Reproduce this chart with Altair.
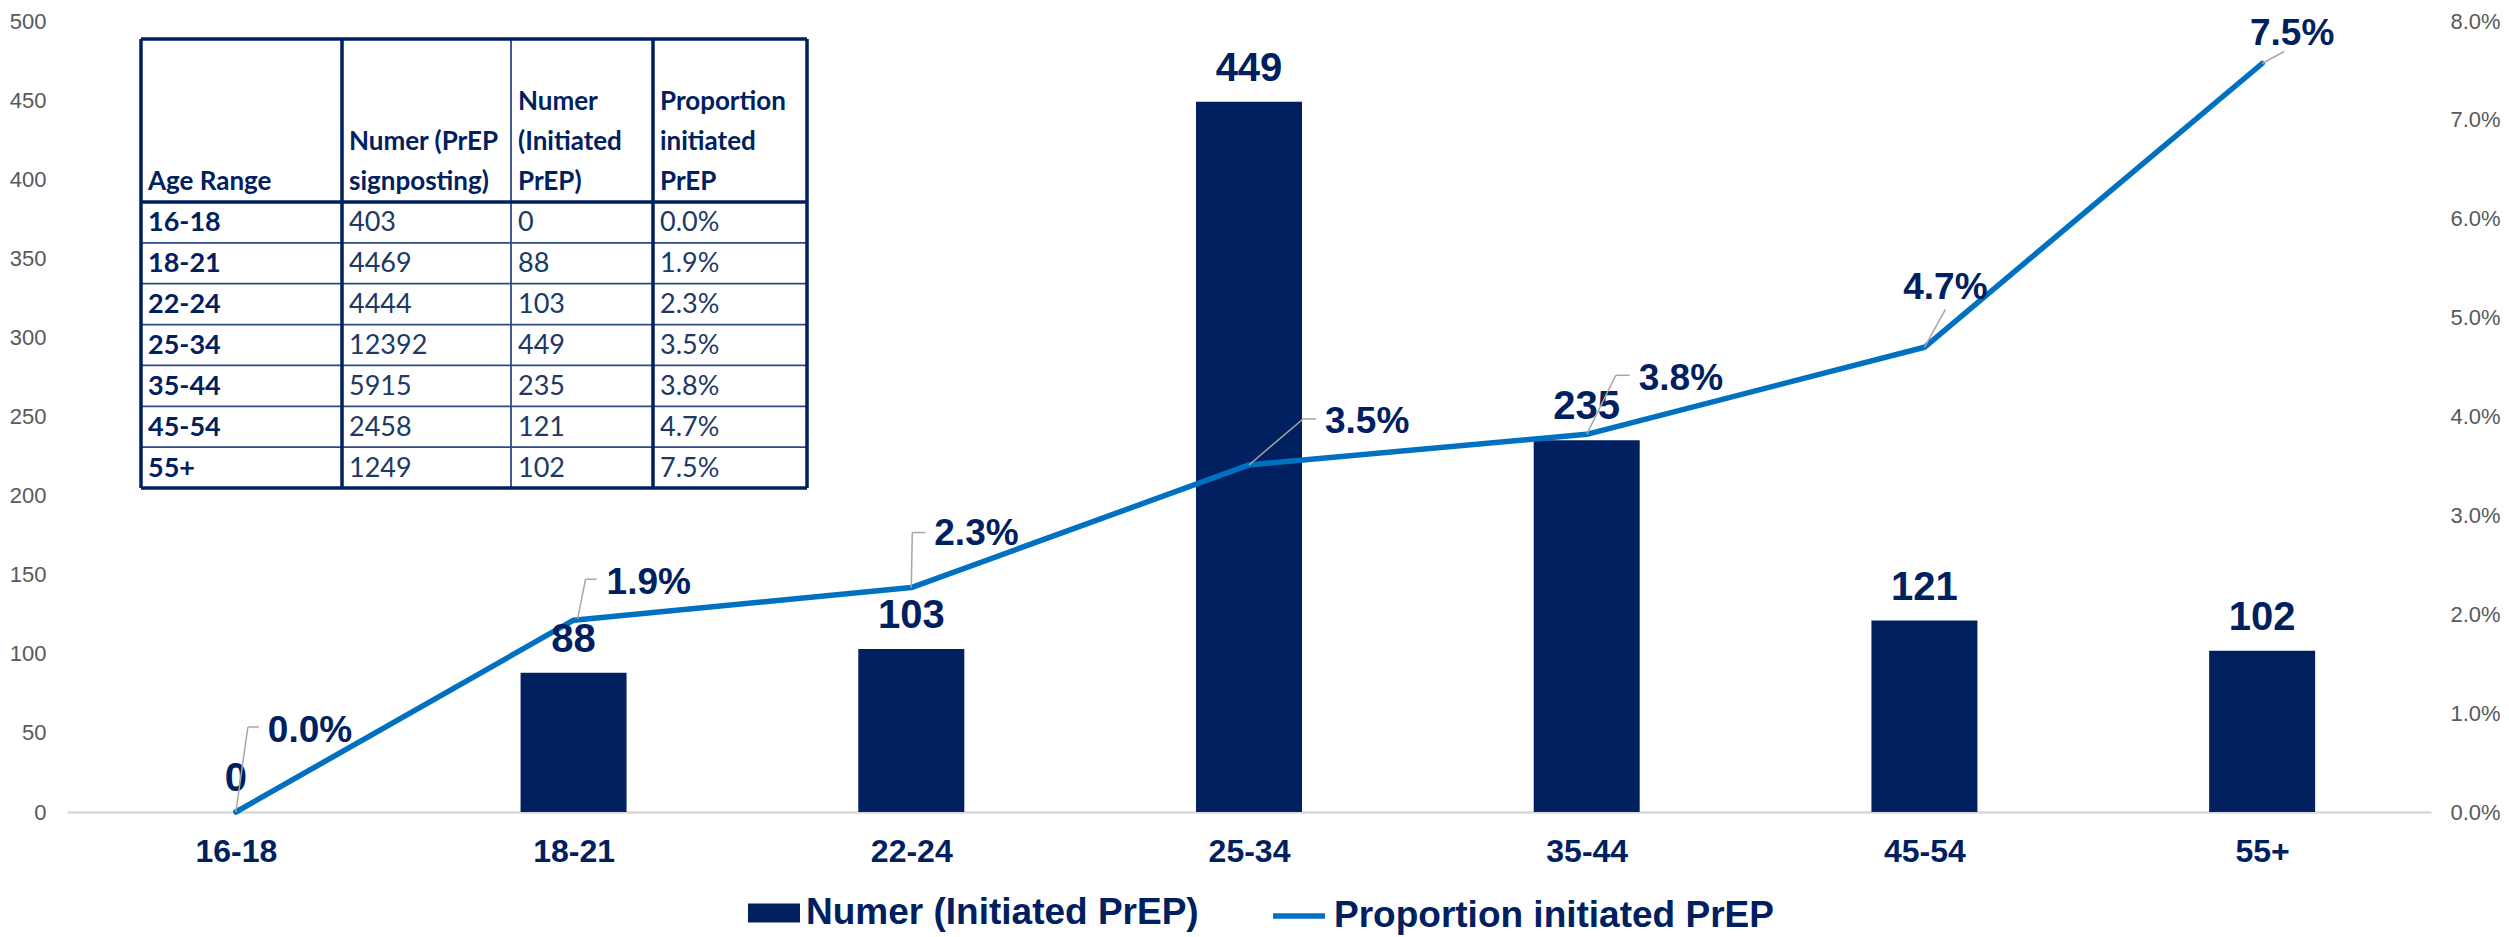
import altair as alt
import pandas as pd

# ---------------- data ----------------
AGE = ["16-18", "18-21", "22-24", "25-34", "35-44", "45-54", "55+"]
SIGNPOST = [403, 4469, 4444, 12392, 5915, 2458, 1249]
INITIATED = [0, 88, 103, 449, 235, 121, 102]
PROP_LABEL = ["0.0%", "1.9%", "2.3%", "3.5%", "3.8%", "4.7%", "7.5%"]
PROP_PLOTTED = [0.0, 0.0194, 0.0227, 0.0351, 0.0382, 0.047, 0.0757]

BAR_NAME = "Numer (Initiated PrEP)"
LINE_NAME = "Proportion initiated PrEP"
TABLE_HEADERS = [["Age Range"], ["Numer (PrEP", "signposting)"],
                 ["Numer", "(Initiated", "PrEP)"], ["Proportion", "initiated", "PrEP"]]

# ---------------- styles ----------------
NAVY = "#002060"
BLUE = "#0070C0"
GREY = "#595959"
AXIS_LINE = "#D9D9D9"
LEADER = "#A6A6A6"
FONT = "Liberation Sans"
TFONT = "Lato"
W, H = 2364, 791

# label placement (pixel offsets from the line point), like Excel's dragged labels
LABEL_STYLE = {
    "16-18": dict(dx=32, dy=-70, align="left", leader=[(0, 0), (12, -85), (23, -85)]),
    "18-21": dict(dx=33, dy=-26, align="left", leader=[(4, -1), (12, -41), (23, -41)]),
    "22-24": dict(dx=23, dy=-43, align="left", leader=[(0, 0), (1, -55), (14, -55)]),
    "25-34": dict(dx=76, dy=-32, align="left", leader=[(0, 0), (54, -46), (67, -46)]),
    "35-44": dict(dx=52, dy=-44, align="left", leader=[(0, 0), (29, -59), (43, -59)]),
    "45-54": dict(dx=21, dy=-48, align="center", leader=[(0, 0), (21, -38)]),
    "55+": dict(dx=30, dy=-19, align="center", leader=[(0, 0), (22, -12)]),
}

# table layout (pixels, relative to table's top-left)
T_LEFT, T_TOP = 74, 18            # within plot area
COL_W = [201, 169, 142, 154]
HEAD_H = 163
ROW_H = 40.86
HEAD_BASELINES = [151, 111, 71]   # last line, previous, ...
CELL_PAD = 7

df = pd.DataFrame({"age": AGE, "signpost": SIGNPOST, "initiated": INITIATED,
                   "prop": PROP_PLOTTED, "plabel": PROP_LABEL})
base = alt.Chart(df)

x_scale = alt.Scale(type="point", domain=AGE, padding=0.5)
x_main = alt.X("age:N", sort=AGE, scale=x_scale,
               axis=alt.Axis(title=None, labelFont=FONT, labelFontSize=32, labelFontWeight="bold",
                             labelColor=NAVY, ticks=False, domainColor=AXIS_LINE, domainWidth=2.5,
                             labelPadding=24, labelAngle=0, grid=False))
x_plain = alt.X("age:N", sort=AGE, scale=x_scale, axis=None)

y_bar_scale = alt.Scale(domain=[0, 500], nice=False, zero=True)
y_line_scale = alt.Scale(domain=[0, 0.08], nice=False, zero=True)

legend_common = dict(
    orient="none", legendY=866, direction="horizontal", title=None,
    labelFont=FONT, labelFontSize=37, labelFontWeight="bold", labelColor=NAVY, labelLimit=1000,
    symbolSize=2704, labelOffset=6, padding=0, symbolOpacity=1,
)

bars = base.transform_calculate(series=f"'{BAR_NAME}'").mark_bar(size=106).encode(
    x=x_main,
    y=alt.Y("initiated:Q", scale=y_bar_scale,
            axis=alt.Axis(title=None, orient="left", values=list(range(0, 501, 50)),
                          labelFont=FONT, labelFontSize=22, labelColor=GREY, ticks=False,
                          domain=False, grid=False, labelPadding=21)),
    fill=alt.Fill("series:N", scale=alt.Scale(domain=[BAR_NAME], range=[NAVY]),
                  legend=alt.Legend(legendX=681, symbolType="M-1,-0.365H1V0.365H-1Z",
                                    symbolStrokeWidth=0, **legend_common)),
)

line = base.transform_calculate(series=f"'{LINE_NAME}'").mark_line(
    strokeWidth=5.5, strokeJoin="round", strokeCap="round").encode(
    x=x_plain,
    y=alt.Y("prop:Q", scale=y_line_scale,
            axis=alt.Axis(title=None, orient="right", values=[i / 100 for i in range(0, 9)],
                          format=".1%", labelFont=FONT, labelFontSize=22, labelColor=GREY,
                          ticks=False, domain=False, grid=False, labelPadding=19)),
    stroke=alt.Stroke("series:N", scale=alt.Scale(domain=[LINE_NAME], range=[BLUE]),
                      legend=alt.Legend(legendX=1203, symbolType="M-1,0H1",
                                        symbolStrokeWidth=5.5, **legend_common)),
)

bar_labels = base.mark_text(font=FONT, fontSize=40, fontWeight="bold", color=NAVY,
                            baseline="alphabetic", dy=-21).encode(
    x=x_plain,
    y=alt.Y("initiated:Q", scale=y_bar_scale, axis=None),
    text="initiated:Q",
)

pct_layers = []
for cat in AGE:
    st = LABEL_STYLE[cat]
    sub = base.transform_filter(alt.datum.age == cat)
    pts = st["leader"]
    for (ax, ay), (bx, by) in zip(pts[:-1], pts[1:]):
        pct_layers.append(sub.mark_rule(color=LEADER, strokeWidth=1.5,
                                        xOffset=ax, yOffset=ay, x2Offset=bx, y2Offset=by).encode(
            x=x_plain, x2="age:N",
            y=alt.Y("prop:Q", scale=y_line_scale, axis=None), y2="prop:Q"))
    pct_layers.append(sub.mark_text(font=FONT, fontSize=37, fontWeight="bold", color=NAVY,
                                    baseline="alphabetic", align=st["align"],
                                    dx=st["dx"], dy=st["dy"]).encode(
        x=x_plain, y=alt.Y("prop:Q", scale=y_line_scale, axis=None), text="plabel:N"))

# ---------------- table ----------------
col_edges = [0]
for w in COL_W:
    col_edges.append(col_edges[-1] + w)
n_rows = len(AGE)
row_edges = [0, HEAD_H] + [HEAD_H + ROW_H * (i + 1) for i in range(n_rows)]
T_W, T_H = col_edges[-1], row_edges[-1]

thick, thin = [], []
for j, xe in enumerate(col_edges):
    (thin if j == 2 else thick).append(dict(x=xe, x2=xe, y=0, y2=T_H))
for i, ye in enumerate(row_edges):
    (thick if i in (0, 1, len(row_edges) - 1) else thin).append(dict(x=0, x2=T_W, y=ye, y2=ye))

head_cells, first_cells, other_cells = [], [], []
for c, lines in enumerate(TABLE_HEADERS):
    for k, txt in enumerate(reversed(lines)):
        head_cells.append(dict(x=col_edges[c] + CELL_PAD, y=HEAD_BASELINES[k], t=txt))
table_cols = [AGE, [str(v) for v in SIGNPOST], [str(v) for v in INITIATED], PROP_LABEL]
for r in range(n_rows):
    yc = HEAD_H + ROW_H * (r + 0.5) + 1
    for c, colvals in enumerate(table_cols):
        cell = dict(x=col_edges[c] + CELL_PAD, y=yc, t=colvals[r])
        (first_cells if c == 0 else other_cells).append(cell)

tx = alt.Scale(domain=[0, T_W], range=[T_LEFT, T_LEFT + T_W], nice=False, zero=False)
ty = alt.Scale(domain=[0, T_H], range=[T_TOP, T_TOP + T_H], nice=False, zero=False)


def rules(rows, width, color):
    return alt.Chart(pd.DataFrame(rows)).mark_rule(strokeWidth=width, color=color).encode(
        x=alt.X("x:Q", scale=tx, axis=None), x2="x2:Q",
        y=alt.Y("y:Q", scale=ty, axis=None), y2="y2:Q")


def texts(rows, size, weight, baseline, color):
    return alt.Chart(pd.DataFrame(rows)).mark_text(
        font=TFONT, fontSize=size, fontWeight=weight, align="left", baseline=baseline,
        color=color).encode(
        x=alt.X("x:Q", scale=tx, axis=None), y=alt.Y("y:Q", scale=ty, axis=None), text="t:N")


table_bg = alt.Chart(pd.DataFrame([dict(x=0, x2=T_W, y=0, y2=T_H)])).mark_rect(color="white").encode(
    x=alt.X("x:Q", scale=tx, axis=None), x2="x2:Q",
    y=alt.Y("y:Q", scale=ty, axis=None), y2="y2:Q")

table = alt.layer(
    table_bg,
    texts(head_cells, 26, "bold", "alphabetic", NAVY),
    texts(first_cells, 27, "bold", "middle", NAVY),
    texts(other_cells, 27, "normal", "middle", "#203864"),
    rules(thin, 1.8, "#2E4A86"),
    rules(thick, 3.5, NAVY),
)

chart = alt.layer(
    bars,
    line,
    bar_labels,
    alt.layer(*pct_layers),
    table,
).resolve_scale(
    x="independent", y="independent"
).properties(
    width=W, height=H,
    autosize=alt.AutoSizeParams(type="none"),
    padding={"left": 59, "top": 13, "right": 70, "bottom": 124},
    background="white",
).configure_view(stroke=None)

chart.save("out.html", embed_options={"renderer": "svg", "actions": False})
